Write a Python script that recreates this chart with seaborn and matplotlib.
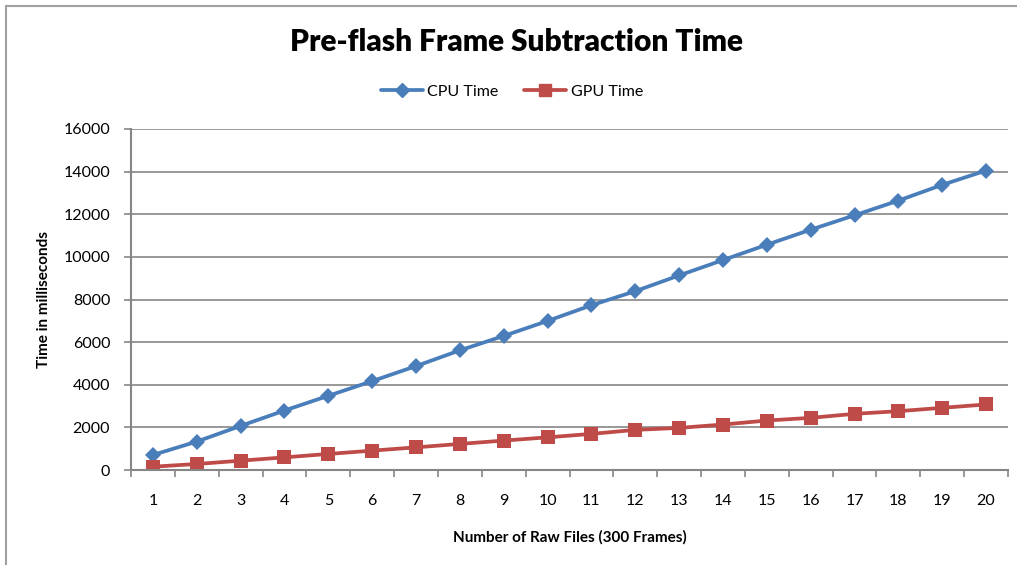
import matplotlib
matplotlib.use("Agg")
import matplotlib.pyplot as plt
import seaborn as sns
import pandas as pd
import numpy as np
from matplotlib.patches import Rectangle

# Number of raw files processed (300 frames each)
raw_files = list(range(1, 21))
cpu_time = [706, 1333, 2070, 2790, 3482, 4170, 4875, 5615, 6290, 6995,
            7730, 8390, 9130, 9850, 10570, 11275, 11950, 12640, 13380, 14050]
gpu_time = [155, 282, 437, 593, 753, 908, 1063, 1224, 1380, 1533,
            1694, 1882, 1976, 2133, 2321, 2447, 2635, 2760, 2918, 3075]
y_ticks = [0, 2000, 4000, 6000, 8000, 10000, 12000, 14000, 16000]

df = pd.DataFrame({
    "files": raw_files * 2,
    "time": cpu_time + gpu_time,
    "series": ["CPU Time"] * len(cpu_time) + ["GPU Time"] * len(gpu_time),
})

sns.set_theme(style="white")
plt.rcParams["font.family"] = ["Lato", "DejaVu Sans"]
plt.rcParams["text.color"] = "black"
plt.rcParams["axes.labelcolor"] = "black"

blue = "#4A7EBB"
red = "#BE4B48"
grid = "#868686"

fig = plt.figure(figsize=(10.17, 5.65), dpi=100)
ax = fig.add_axes([131 / 1017, 1 - 470 / 565, (1008 - 131) / 1017, (470 - 129) / 565])

sns.lineplot(data=df, x="files", y="time", hue="series", style="series",
             palette={"CPU Time": blue, "GPU Time": red},
             markers={"CPU Time": "D", "GPU Time": "s"},
             dashes=False, linewidth=2.7, markersize=9, markeredgewidth=0,
             ax=ax, legend=False)
for line, ms in zip(ax.lines, [8.5, 10.5]):
    line.set_markersize(ms)

ax.set_xlim(0.5, 20.5)
ax.set_ylim(0, 16000)
ax.set_yticks(y_ticks)
ax.set_yticklabels([str(v) for v in y_ticks])
ax.set_xticks(raw_files)
ax.set_xticklabels([str(v) for v in raw_files])
ax.set_xticks(np.arange(0.5, 21.0, 1.0), minor=True)

ax.yaxis.grid(True, color=grid, linewidth=1.2)
ax.xaxis.grid(False)
ax.set_axisbelow(True)

for side in ["top", "right"]:
    ax.spines[side].set_visible(False)
for side in ["left", "bottom"]:
    ax.spines[side].set_color(grid)
    ax.spines[side].set_linewidth(1.5)

ax.tick_params(axis="y", which="major", left=True, length=5, width=1.2,
               color=grid, labelsize=11.5, pad=10, labelcolor="black")
ax.tick_params(axis="x", which="major", bottom=False, length=0,
               labelsize=11.5, pad=17, labelcolor="black")
ax.tick_params(axis="x", which="minor", bottom=True, length=5, width=1.2,
               color=grid)

ax.set_xlabel("Number of Raw Files (300 Frames)", fontsize=11, fontweight="bold",
              labelpad=16)
ax.set_ylabel("Time in milliseconds", fontsize=11, fontweight="bold", labelpad=9)

fig.text(517 / 1017, 1 - 42 / 565, "Pre-flash Frame Subtraction Time", ha="center",
         va="center", fontsize=21.5, fontweight="heavy")

handles = [
    plt.Line2D([], [], color=blue, marker="D", markersize=7.5, linewidth=2.7),
    plt.Line2D([], [], color=red, marker="s", markersize=9, linewidth=2.7),
]
fig.legend(handles, ["CPU Time", "GPU Time"], loc="center",
           bbox_to_anchor=(512 / 1017, 1 - 92 / 565), ncol=2, frameon=False,
           fontsize=11.5, handlelength=2.6, columnspacing=1.6, handletextpad=0.3)

# chart-area border
fig.patches.append(Rectangle((6 / 1017, -0.1), 1.2, 1 - 6 / 565 + 0.1,
                             transform=fig.transFigure, fill=False,
                             edgecolor="#A0A0A0", linewidth=1.5))

fig.savefig("out.png", dpi=100)
